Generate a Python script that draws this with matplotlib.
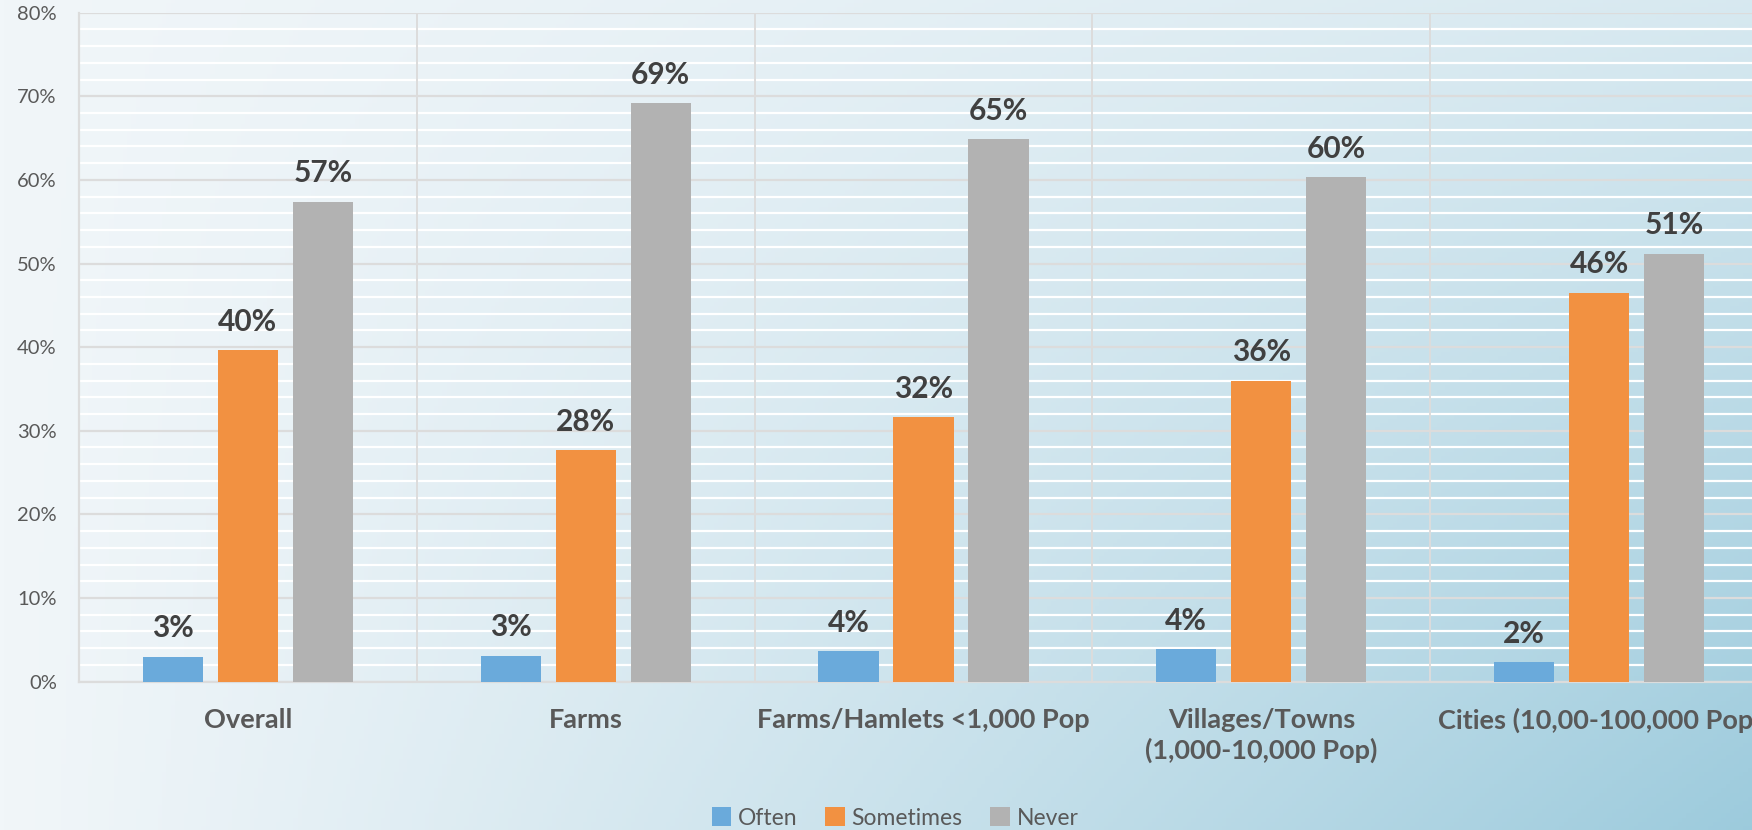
import numpy as np
import matplotlib
matplotlib.use("Agg")
import matplotlib.pyplot as plt
from matplotlib.patches import Patch

categories = ["Overall", "Farms", "Farms/Hamlets <1,000 Pop",
              "Villages/Towns\n(1,000-10,000 Pop)", "Cities (10,00-100,000 Pop)"]
series_names = ["Often", "Sometimes", "Never"]
often = [3.0, 3.1, 3.6, 3.9, 2.3]
sometimes = [39.6, 27.7, 31.6, 36.0, 46.5]
never = [57.4, 69.2, 64.9, 60.3, 51.2]
yticks = [0, 10, 20, 30, 40, 50, 60, 70, 80]

colors = ["#6aaadb", "#f29141", "#b2b2b2"]

plt.rcParams['font.family'] = ['Lato', 'DejaVu Sans']

W, H = 1752, 830
fig = plt.figure(figsize=(W / 100, H / 100), dpi=100)

# background gradient
bg = fig.add_axes([0, 0, 1, 1], zorder=-10)
nx, ny = 400, 200
xx = np.linspace(0, 1, nx)[None, :]
yy = np.linspace(0, 1, ny)[:, None]  # 0 top, 1 bottom
w = np.clip(xx ** 1.1 * (0.3 + 0.68 * yy), 0, 1)
light = np.array([241, 246, 249]) / 255
blue = np.array([155, 202, 220]) / 255
img = light[None, None, :] * (1 - w[..., None]) + blue[None, None, :] * w[..., None]
bg.imshow(img, extent=[0, 1, 0, 1], aspect='auto', origin='upper')
bg.set_axis_off()

left = 79 / W
right_px = 79 + 5 * 337.8
bottom = (H - 681.6) / H
top = (H - 12.7) / H
ax = fig.add_axes([left, bottom, (right_px - 79) / W, top - bottom])
ax.set_facecolor('none')

x = np.arange(len(categories))
bw = 0.178
off = 0.222
series = [often, sometimes, never]
for i, (vals, c, name) in enumerate(zip(series, colors, series_names)):
    pos = x + (i - 1) * off
    bars = ax.bar(pos, vals, width=bw, color=c, zorder=3, label=name)
    for b, v in zip(bars, vals):
        ax.annotate(f"{round(v):d}%", (b.get_x() + b.get_width() / 2, v),
                    xytext=(0, 14), textcoords='offset points',
                    ha='center', va='baseline', fontsize=21.5, fontweight='bold',
                    color='#404040', zorder=4)

ax.set_xlim(-0.5, len(categories) - 0.5)
ax.set_ylim(0, 80)
ax.set_yticks(yticks)
ax.set_yticklabels([f"{t}%" for t in yticks])
ax.set_yticks(np.arange(0, 81, 2), minor=True)
ax.yaxis.grid(True, which='minor', color='white', lw=1.6, zorder=1)
ax.yaxis.grid(True, which='major', color='#dcdcdc', lw=1.6, zorder=2)
for s in np.arange(0.5, len(categories) - 0.5, 1):
    ax.axvline(s, color='#dcdcdc', lw=1.4, zorder=2)

ax.set_xticks(x)
ax.set_xticklabels(categories, fontsize=19.5, fontweight='bold', color='#595959',
                   linespacing=1.25)
ax.tick_params(axis='x', length=0, pad=19)
ax.tick_params(axis='y', which='both', length=0, pad=16, labelsize=14.5,
               labelcolor='#595959')
for sp in ['top', 'right']:
    ax.spines[sp].set_visible(False)
for sp in ['left', 'bottom']:
    ax.spines[sp].set_color('#dcdcdc')
    ax.spines[sp].set_linewidth(1.6)

handles = [Patch(facecolor=c, edgecolor='none') for c in colors]
fig.legend(handles, series_names, loc='center', bbox_to_anchor=(895 / W, 1 - 818 / H),
           ncol=3, frameon=False, fontsize=16.5, labelcolor='#595959',
           handlelength=0.85, handleheight=0.85, handletextpad=0.3,
           columnspacing=1.2, borderpad=0)

fig.savefig("out.png", dpi=100)
